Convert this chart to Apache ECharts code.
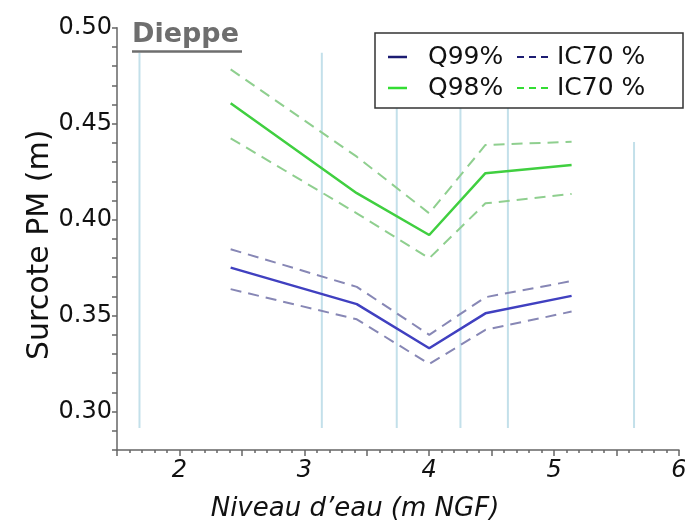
<!DOCTYPE html>
<html>
<head>
<meta charset="utf-8">
<script src="https://cdn.jsdelivr.net/npm/echarts@6/dist/echarts.min.js"></script>
<style>
  html, body { margin: 0; padding: 0; background: #fff; }
  #chart { width: 685px; height: 528px; }
</style>
</head>
<body>
<div id="chart"></div>
<script>
// Reference tide levels (m NGF), drawn as light vertical guides
const levelX = [1.68, 3.14, 3.74, 4.25, 4.63, 5.64];
const levelBottom = [0.2915, 0.2915, 0.2915, 0.2915, 0.2915, 0.2915];
const levelTop = [0.487, 0.487, 0.487, 0.487, 0.487, 0.4405];

// Water levels where the surge quantiles were estimated
const waterLevel = [2.41, 3.42, 4.0, 4.45, 5.14];

// 99% quantile of high-tide surge and its 70% confidence band
const q99 = [0.375, 0.356, 0.333, 0.3512, 0.3603];
const q99Upper = [0.3846, 0.365, 0.340, 0.3596, 0.368];
const q99Lower = [0.3638, 0.3481, 0.3248, 0.3426, 0.3521];

// 98% quantile of high-tide surge and its 70% confidence band
const q98 = [0.4606, 0.4138, 0.392, 0.4242, 0.4285];
const q98Upper = [0.4783, 0.4328, 0.4033, 0.4389, 0.4406];
const q98Lower = [0.4424, 0.4033, 0.3799, 0.4085, 0.4134];

const xTickLabels = ['2', '3', '4', '5', '6'];

const FONT = 'DejaVu Sans';

function pairs(xs, ys) {
  return xs.map((x, i) => [x, ys[i]]);
}

const series = [];

levelX.forEach((x, i) => {
  series.push({
    type: 'line',
    silent: true,
    symbol: 'none',
    z: 1,
    data: [[x, levelBottom[i]], [x, levelTop[i]]],
    lineStyle: { color: '#c3e0ea', width: 2 }
  });
});

function curve(values, color, width, dashed) {
  series.push({
    type: 'line',
    symbol: 'none',
    z: 3,
    data: pairs(waterLevel, values),
    lineStyle: { color: color, width: width, type: dashed ? [11, 7] : 'solid' }
  });
}

curve(q98Upper, '#8fcf8f', 2, true);
curve(q98Lower, '#8fcf8f', 2, true);
curve(q98, '#40cf40', 2.5, false);
curve(q99Upper, '#8787b5', 2, true);
curve(q99Lower, '#8787b5', 2, true);
curve(q99, '#4040c0', 2.5, false);

// Legend box drawn with graphic primitives
const legendBox = { x: 375, y: 33, w: 308, h: 75 };
const legendRows = [
  { y: 57, color: '#1c1c72', label: 'Q99%', band: 'IC70 %' },
  { y: 88, color: '#33dd33', label: 'Q98%', band: 'IC70 %' }
];

const graphic = [
  {
    type: 'text',
    left: 132, top: 21, z: 10,
    style: { text: 'Dieppe', fill: '#6e6e6e', font: 'bold 27px "DejaVu Sans"' }
  },
  {
    type: 'line', z: 10,
    shape: { x1: 132, y1: 51.5, x2: 242, y2: 51.5 },
    style: { stroke: '#6e6e6e', lineWidth: 2.5 }
  },
  {
    type: 'rect', z: 20,
    shape: { x: legendBox.x, y: legendBox.y, width: legendBox.w, height: legendBox.h },
    style: { fill: '#fff', stroke: '#333', lineWidth: 1.5 }
  }
];

legendRows.forEach(r => {
  graphic.push({
    type: 'line', z: 21,
    shape: { x1: 388, y1: r.y, x2: 407, y2: r.y },
    style: { stroke: r.color, lineWidth: 2.5 }
  });
  graphic.push({
    type: 'text', z: 21, x: 428, y: r.y,
    style: { text: r.label, fill: '#111', font: '25px "DejaVu Sans"', verticalAlign: 'middle' }
  });
  graphic.push({
    type: 'line', z: 21,
    shape: { x1: 517, y1: r.y, x2: 548, y2: r.y },
    style: { stroke: r.color, lineWidth: 2, lineDash: [7, 5] }
  });
  graphic.push({
    type: 'text', z: 21, x: 557, y: r.y,
    style: { text: r.band, fill: '#111', font: '25px "DejaVu Sans"', verticalAlign: 'middle' }
  });
});

const chart = echarts.init(document.getElementById('chart'), null, { renderer: 'canvas' });
chart.setOption({
  animation: false,
  backgroundColor: '#fff',
  grid: { left: 117, right: 6, top: 27.7, bottom: 78, outerBoundsMode: 'none', containLabel: false },
  xAxis: {
    type: 'value',
    min: 1.5, max: 6, interval: 0.5,
    name: 'Niveau d’eau (m NGF)',
    nameLocation: 'middle',
    nameGap: 46,
    nameTextStyle: {
      fontFamily: FONT, fontStyle: 'italic', fontSize: 26, color: '#111',
      padding: [0, 86, 0, 0]
    },
    axisLine: { lineStyle: { color: '#666', width: 1.5 } },
    axisTick: { length: 6, lineStyle: { color: '#666', width: 1.5 } },
    minorTick: { show: true, splitNumber: 5, length: 3, lineStyle: { color: '#666', width: 1.5 } },
    splitLine: { show: false },
    axisLabel: {
      fontFamily: FONT, fontStyle: 'italic', fontSize: 24, color: '#111', margin: 9,
      formatter: v => {
        const s = String(Math.round(v * 10) / 10);
        return xTickLabels.includes(s) ? s : '';
      }
    }
  },
  yAxis: {
    type: 'value',
    min: 0.28, max: 0.5, interval: 0.01,
    name: 'Surcote PM (m)',
    nameLocation: 'middle',
    nameGap: 62,
    nameMoveOverlap: false,
    nameTextStyle: { fontFamily: FONT, fontSize: 30, color: '#111', padding: [0, 12, 0, 0] },
    axisLine: { show: true, lineStyle: { color: '#666', width: 1.5 } },
    axisTick: { show: true, length: 5, lineStyle: { color: '#666', width: 1.5 } },
    splitLine: { show: false },
    axisLabel: {
      fontFamily: FONT, fontSize: 24, color: '#111', margin: 5,
      formatter: v => (Math.round(v * 100) % 5 === 0 ? v.toFixed(2) : '')
    }
  },
  graphic: graphic,
  series: series
});
</script>
</body>
</html>
